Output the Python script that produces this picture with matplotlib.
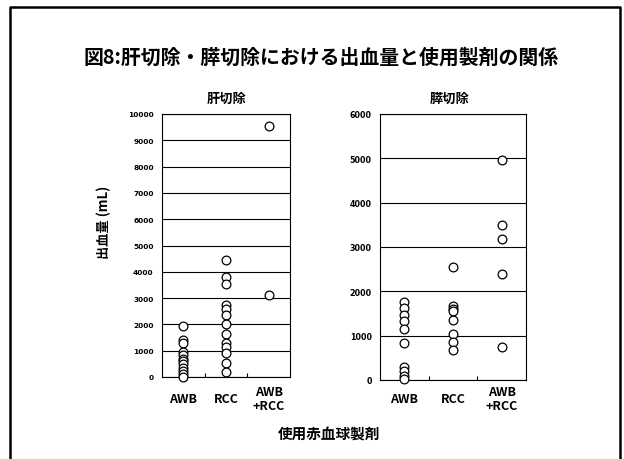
import numpy as np
import matplotlib.pyplot as plt
from matplotlib.lines import Line2D

plt.rcParams['font.family'] = ['Noto Sans CJK JP', 'DejaVu Sans']

categories = ['AWB', 'RCC', 'AWB\n+RCC']

# 肝切除 (mL)
kan_awb = [1950, 1400, 1300, 950, 850, 700, 600, 480, 350, 230, 100, 0]
kan_rcc = [4450, 3800, 3550, 2750, 2600, 2350, 2000, 1650, 1300, 1150, 900, 550, 200]
kan_both = [9550, 3100]

# 膵切除 (mL)
sui_awb = [1750, 1620, 1470, 1320, 1150, 830, 300, 200, 80, 30]
sui_rcc = [2550, 1680, 1600, 1550, 1350, 1030, 850, 680]
sui_both = [4970, 3500, 3180, 2390, 740]

W, H = 624, 460
fig = plt.figure(figsize=(W / 100, H / 100), dpi=100)


def panel(left, bottom, right, top, groups, ymax, step, tsize, xpad):
    # positions en pixels -> fractions de la figure
    ax = fig.add_axes([left / W, 1 - bottom / H, (right - left) / W, (bottom - top) / H])
    for i, vals in enumerate(groups):
        ax.plot([i + 1] * len(vals), vals, 'o', ms=6.3, mfc='white', mec='black',
                mew=0.9, zorder=3, clip_on=False)
    ax.set_xlim(0.5, 3.5)
    ax.set_ylim(0, ymax)
    ax.set_yticks(np.arange(0, ymax + 1, step))
    ax.yaxis.grid(True, color='black', lw=0.8)
    ax.set_axisbelow(True)
    for s in ax.spines.values():
        s.set_linewidth(0.8)
    ax.tick_params(axis='y', length=0, pad=6, labelsize=tsize)
    for lab in ax.get_yticklabels():
        lab.set_fontfamily('DejaVu Sans')
        lab.set_fontweight('bold')
    ax.set_xticks([1, 2, 3])
    ax.set_xticklabels(categories, fontsize=9, fontweight='bold', va='center',
                       linespacing=1.05)
    ax.tick_params(axis='x', which='major', length=0, pad=xpad)
    ax.set_xticks([1.5, 2.5], minor=True)
    ax.tick_params(axis='x', which='minor', direction='in', length=3, width=0.8)
    return ax


panel(162, 378, 290, 115, [kan_awb, kan_rcc, kan_both], 10000, 1000, 5.3, 15.5)
panel(380, 381, 526, 115, [sui_awb, sui_rcc, sui_both], 6000, 1000, 5.8, 13.5)

fig.text(321 / W, 1 - 57 / H, '図8:肝切除・膵切除における出血量と使用製剤の関係',
         ha='center', va='center', fontsize=14.3, fontweight='bold')
fig.text(227 / W, 1 - 99 / H, '肝切除', ha='center', va='center', fontsize=9.5, fontweight='bold')
fig.text(450 / W, 1 - 99 / H, '膵切除', ha='center', va='center', fontsize=9.5, fontweight='bold')
fig.text(104 / W, 1 - 222 / H, '出血量 (mL)', ha='center', va='center', rotation=90,
         fontsize=9.5, fontweight='bold')
fig.text(329 / W, 1 - 435 / H, '使用赤血球製剤', ha='center', va='center',
         fontsize=10.5, fontweight='bold')

# cadre autour de la diapo (pas de bord en bas)
xl, xr, yt = 9.5 / W, 619.5 / W, 1 - 7.5 / H
fig.lines.append(Line2D([xl, xl, xr, xr], [0, yt, yt, 0], lw=1.8, color='black',
                        transform=fig.transFigure))

fig.savefig('out.png', dpi=100)
